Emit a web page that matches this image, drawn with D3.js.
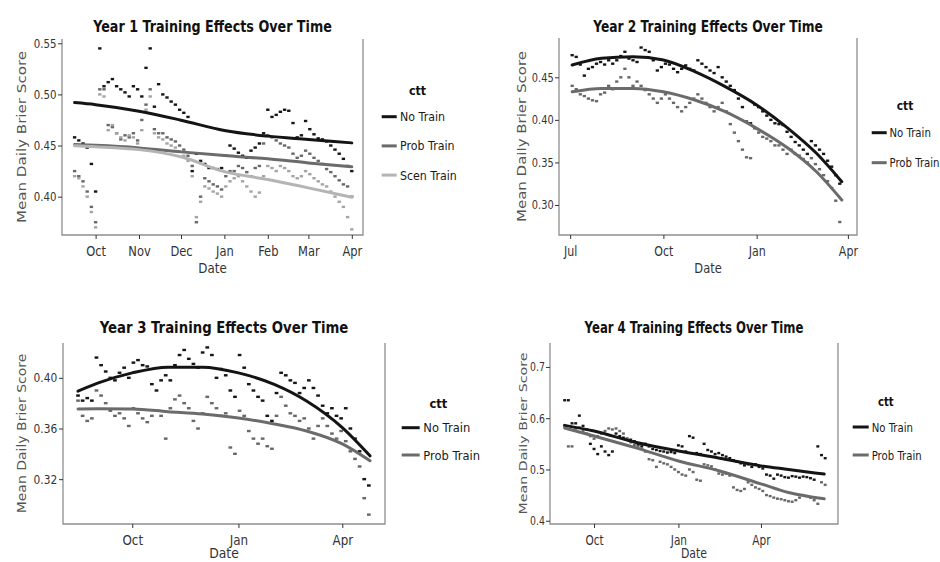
<!DOCTYPE html>
<html>
<head>
<meta charset="utf-8">
<script src="https://cdnjs.cloudflare.com/ajax/libs/d3/7.8.5/d3.min.js"></script>
<style>
  body { margin: 0; background: #fff; }
  svg { display: block; }
</style>
</head>
<body>
<div id="chart"></div>
<script>
const parseDay = d3.utcParse("%Y-%m-%d");
const seriesNames = ["No Train", "Prob Train", "Scen Train"];

// Year 1: one mean daily score every 3 days from the start date
const y1Start = "2011-09-16", y1Step = 3;
const y1NoTrain = [0.458, 0.455, 0.452, 0.448, 0.432, 0.405, 0.545, 0.508, 0.512, 0.515,
  0.508, 0.505, 0.502, 0.498, 0.508, 0.505, 0.498, 0.526, 0.545, 0.488,
  0.510, 0.500, 0.497, 0.493, 0.490, 0.485, 0.482, 0.478, 0.425, 0.442,
  0.435, 0.432, 0.428, 0.428, 0.427, 0.428, 0.440, 0.450, 0.447, 0.443,
  0.440, 0.438, 0.445, 0.448, 0.452, 0.462, 0.485, 0.478, 0.480, 0.483,
  0.485, 0.484, 0.472, 0.458, 0.460, 0.474, 0.466, 0.461, 0.457, 0.456,
  0.454, 0.450, 0.446, 0.442, 0.437, 0.430, 0.425];
const y1ProbTrain = [0.425, 0.420, 0.415, 0.405, 0.390, 0.375, 0.505, 0.505, 0.470, 0.468,
  0.462, 0.456, 0.460, 0.458, 0.462, 0.455, 0.475, 0.490, 0.505, 0.466,
  0.462, 0.462, 0.458, 0.456, 0.454, 0.450, 0.446, 0.440, 0.430, 0.375,
  0.400, 0.418, 0.415, 0.412, 0.410, 0.407, 0.420, 0.425, 0.425, 0.430,
  0.428, 0.424, 0.420, 0.428, 0.430, 0.452, 0.460, 0.458, 0.455, 0.452,
  0.450, 0.448, 0.442, 0.438, 0.440, 0.445, 0.442, 0.438, 0.435, 0.432,
  0.427, 0.424, 0.420, 0.416, 0.412, 0.410, 0.400];
const y1ScenTrain = [0.420, 0.418, 0.410, 0.400, 0.385, 0.370, 0.500, 0.498, 0.465, 0.470,
  0.462, 0.458, 0.455, 0.460, 0.458, 0.452, 0.465, 0.485, 0.498, 0.462,
  0.458, 0.456, 0.452, 0.450, 0.448, 0.444, 0.440, 0.435, 0.420, 0.380,
  0.395, 0.410, 0.408, 0.405, 0.403, 0.400, 0.410, 0.415, 0.418, 0.420,
  0.415, 0.410, 0.405, 0.400, 0.404, 0.420, 0.430, 0.428, 0.425, 0.430,
  0.428, 0.425, 0.420, 0.418, 0.420, 0.425, 0.422, 0.418, 0.415, 0.412,
  0.410, 0.405, 0.400, 0.395, 0.390, 0.380, 0.368];
const y1FitDates = ["2011-09-16", "2011-10-01", "2011-11-01", "2011-12-01", "2012-01-01", "2012-02-01", "2012-03-01", "2012-04-01"];
const y1FitNo = [0.492, 0.490, 0.4836, 0.4748, 0.4647, 0.4592, 0.456, 0.4526];
const y1FitProb = [0.451, 0.4502, 0.4477, 0.4438, 0.4402, 0.437, 0.433, 0.4292];
const y1FitScen = [0.4497, 0.4488, 0.446, 0.439, 0.4245, 0.4167, 0.4086, 0.3995];
const y1XTicks = ["2011-10-01", "2011-11-01", "2011-12-01", "2012-01-01", "2012-02-01", "2012-03-01", "2012-04-01"];
const y1YTicks = [0.40, 0.45, 0.50, 0.55];

// Year 2: every 4 days
const y2Start = "2012-07-03", y2Step = 4;
const y2NoTrain = [0.476, 0.474, 0.465, 0.452, 0.460, 0.462, 0.466, 0.468, 0.465, 0.470,
  0.466, 0.470, 0.475, 0.480, 0.472, 0.470, 0.468, 0.485, 0.482, 0.480,
  0.470, 0.458, 0.462, 0.466, 0.465, 0.460, 0.456, 0.460, 0.464, 0.460,
  0.458, 0.470, 0.466, 0.462, 0.458, 0.455, 0.462, 0.450, 0.445, 0.440,
  0.435, 0.425, 0.415, 0.398, 0.396, 0.418, 0.415, 0.410, 0.405, 0.400,
  0.396, 0.395, 0.394, 0.386, 0.380, 0.374, 0.370, 0.365, 0.360, 0.375,
  0.370, 0.365, 0.360, 0.352, 0.345, 0.335, 0.325];
const y2ProbTrain = [0.440, 0.436, 0.430, 0.428, 0.425, 0.423, 0.422, 0.430, 0.432, 0.440,
  0.436, 0.445, 0.450, 0.460, 0.450, 0.440, 0.445, 0.440, 0.435, 0.430,
  0.425, 0.420, 0.425, 0.430, 0.425, 0.420, 0.415, 0.410, 0.415, 0.420,
  0.425, 0.430, 0.425, 0.420, 0.415, 0.410, 0.415, 0.420, 0.410, 0.395,
  0.385, 0.375, 0.365, 0.356, 0.355, 0.390, 0.385, 0.380, 0.378, 0.375,
  0.370, 0.370, 0.365, 0.360, 0.365, 0.360, 0.358, 0.354, 0.350, 0.355,
  0.348, 0.342, 0.335, 0.328, 0.320, 0.305, 0.280];
const y2FitDates = ["2012-07-03", "2012-08-01", "2012-09-01", "2012-10-01", "2012-11-01", "2012-12-01", "2013-01-01", "2013-02-01", "2013-03-01", "2013-03-26"];
const y2FitNo = [0.4645, 0.4723, 0.4742, 0.4703, 0.4566, 0.439, 0.4175, 0.390, 0.3607, 0.3273];
const y2FitProb = [0.433, 0.437, 0.437, 0.433, 0.4233, 0.4096, 0.390, 0.3666, 0.339, 0.3058];
const y2XTicks = ["2012-07-01", "2012-10-01", "2013-01-01", "2013-04-01"];
const y2YTicks = [0.30, 0.35, 0.40, 0.45];

// Year 3: every 4 days
const y3Start = "2013-08-15", y3Step = 4;
const y3NoTrain = [0.386, 0.382, 0.384, 0.382, 0.416, 0.410, 0.405, 0.400, 0.398, 0.404,
  0.408, 0.400, 0.412, 0.414, 0.410, 0.409, 0.395, 0.390, 0.398, 0.402,
  0.398, 0.410, 0.418, 0.422, 0.415, 0.411, 0.408, 0.420, 0.424, 0.418,
  0.400, 0.407, 0.402, 0.390, 0.385, 0.418, 0.408, 0.395, 0.390, 0.385,
  0.382, 0.370, 0.366, 0.388, 0.404, 0.402, 0.398, 0.396, 0.388, 0.392,
  0.398, 0.392, 0.386, 0.378, 0.372, 0.376, 0.370, 0.368, 0.376, 0.360,
  0.352, 0.342, 0.320, 0.315];
const y3ProbTrain = [0.382, 0.370, 0.366, 0.368, 0.390, 0.386, 0.380, 0.374, 0.370, 0.372,
  0.368, 0.362, 0.376, 0.372, 0.368, 0.365, 0.370, 0.374, 0.370, 0.352,
  0.376, 0.383, 0.386, 0.380, 0.376, 0.366, 0.360, 0.372, 0.385, 0.380,
  0.376, 0.370, 0.372, 0.345, 0.340, 0.374, 0.370, 0.358, 0.352, 0.348,
  0.352, 0.346, 0.344, 0.370, 0.385, 0.378, 0.372, 0.370, 0.366, 0.368,
  0.360, 0.352, 0.362, 0.368, 0.362, 0.356, 0.352, 0.358, 0.350, 0.342,
  0.336, 0.330, 0.305, 0.292];
const y3FitDates = ["2013-08-15", "2013-09-01", "2013-10-01", "2013-11-01", "2013-12-01", "2014-01-01", "2014-02-01", "2014-03-01", "2014-04-01", "2014-04-25"];
const y3FitNo = [0.3895, 0.3958, 0.4039, 0.4084, 0.4084, 0.4039, 0.3948, 0.3817, 0.3607, 0.3384];
const y3FitProb = [0.3754, 0.3755, 0.3754, 0.3733, 0.3714, 0.3683, 0.3636, 0.358, 0.3478, 0.3345];
const y3XTicks = ["2013-10-01", "2014-01-01", "2014-04-01"];
const y3YTicks = [0.32, 0.36, 0.40];

// Year 4: every 4 days
const y4Start = "2014-08-30", y4Step = 4;
const y4NoTrain = [0.635, 0.635, 0.590, 0.590, 0.605, 0.585, 0.578, 0.550, 0.540, 0.530,
  0.545, 0.535, 0.528, 0.535, 0.570, 0.565, 0.562, 0.560, 0.558, 0.555,
  0.548, 0.545, 0.550, 0.545, 0.540, 0.538, 0.536, 0.535, 0.533, 0.534,
  0.532, 0.547, 0.545, 0.535, 0.565, 0.562, 0.532, 0.530, 0.550, 0.538,
  0.535, 0.530, 0.532, 0.528, 0.525, 0.522, 0.518, 0.515, 0.512, 0.508,
  0.510, 0.505, 0.510, 0.505, 0.502, 0.490, 0.488, 0.482, 0.490, 0.488,
  0.485, 0.484, 0.487, 0.486, 0.484, 0.486, 0.485, 0.483, 0.480, 0.545,
  0.528, 0.522];
const y4ProbTrain = [0.585, 0.545, 0.545, 0.580, 0.582, 0.575, 0.570, 0.565, 0.560, 0.565,
  0.570, 0.575, 0.580, 0.578, 0.580, 0.575, 0.570, 0.560, 0.553, 0.548,
  0.545, 0.540, 0.535, 0.520, 0.518, 0.505, 0.515, 0.512, 0.510, 0.505,
  0.500, 0.495, 0.490, 0.488, 0.500, 0.495, 0.480, 0.478, 0.510, 0.508,
  0.506, 0.500, 0.492, 0.490, 0.492, 0.488, 0.465, 0.460, 0.458, 0.462,
  0.475, 0.470, 0.465, 0.462, 0.458, 0.450, 0.448, 0.445, 0.443, 0.442,
  0.440, 0.438, 0.437, 0.440, 0.445, 0.450, 0.448, 0.445, 0.440, 0.433,
  0.475, 0.470];
const y4FitDates = ["2014-08-30", "2014-10-01", "2014-11-15", "2015-01-01", "2015-02-15", "2015-04-01", "2015-05-01", "2015-06-09"];
const y4FitNo = [0.586, 0.575, 0.553, 0.536, 0.522, 0.507, 0.500, 0.491];
const y4FitProb = [0.5808, 0.5652, 0.5425, 0.5166, 0.497, 0.4719, 0.455, 0.4428];
const y4XTicks = ["2014-10-01", "2015-01-01", "2015-04-01"];
const y4YTicks = [0.4, 0.5, 0.6, 0.7];

// layout of the four panels
const panels = [
  { title: "Year 1 Training Effects Over Time", start: y1Start, step: y1Step,
    series: [y1NoTrain, y1ProbTrain, y1ScenTrain], fitDates: y1FitDates, fits: [y1FitNo, y1FitProb, y1FitScen],
    xTicks: y1XTicks, yTicks: y1YTicks, yFormat: ".2f",
    xDomain: ["2011-09-07", "2012-04-09"], yDomain: [0.3625, 0.5542],
    box: { left: 62, right: 363, top: 39, bottom: 235 },
    titleWidth: 239, titleY: 31.5, dateY: 273, yLabelX: 21.7, yLabelSize: 15.1, legendSize: 13,
    legend: { keyX: 381.7, keyLen: 15, textX: 400, titleX: 417.5, titleY: 95, itemY: 116.7, gap: 29.2 } },
  { title: "Year 2 Training Effects Over Time", start: y2Start, step: y2Step,
    series: [y2NoTrain, y2ProbTrain], fitDates: y2FitDates, fits: [y2FitNo, y2FitProb],
    xTicks: y2XTicks, yTicks: y2YTicks, yFormat: ".2f",
    xDomain: ["2012-06-20", "2013-04-10"], yDomain: [0.2647, 0.4962],
    box: { left: 559, right: 857, top: 38, bottom: 235 },
    titleWidth: 230, titleY: 31.5, dateY: 273, yLabelX: 521.7, yLabelSize: 15, legendSize: 12.4,
    legend: { keyX: 871.7, keyLen: 15, textX: 889.5, titleX: 905, titleY: 110, itemY: 132.7, gap: 30 } },
  { title: "Year 3 Training Effects Over Time", start: y3Start, step: y3Step,
    series: [y3NoTrain, y3ProbTrain], fitDates: y3FitDates, fits: [y3FitNo, y3FitProb],
    xTicks: y3XTicks, yTicks: y3YTicks, yFormat: ".2f",
    xDomain: ["2013-08-02", "2014-05-08"], yDomain: [0.2846, 0.4275],
    box: { left: 63, right: 385, top: 343, bottom: 524 },
    titleWidth: 249, titleY: 332.5, dateY: 558, yLabelX: 21.7, yLabelSize: 14, legendSize: 13,
    legend: { keyX: 401.7, keyLen: 18, textX: 423.3, titleX: 438.3, titleY: 407.7, itemY: 427.7, gap: 27.3 } },
  { title: "Year 4 Training Effects Over Time", start: y4Start, step: y4Step,
    series: [y4NoTrain, y4ProbTrain], fitDates: y4FitDates, fits: [y4FitNo, y4FitProb],
    xTicks: y4XTicks, yTicks: y4YTicks, yFormat: ".1f",
    xDomain: ["2014-08-14", "2015-06-24"], yDomain: [0.3936, 0.7467],
    box: { left: 550, right: 838, top: 343, bottom: 524 },
    titleWidth: 219, titleY: 332.5, dateY: 558, yLabelX: 523.3, yLabelSize: 14.2, legendSize: 13,
    legend: { keyX: 852.7, keyLen: 16, textX: 871.7, titleX: 885.8, titleY: 406, itemY: 427, gap: 28 } }
];

const lineColors = ["#141414", "#6b6b6b", "#b4b4b4"];
const pointColors = ["#161616", "#686868", "#a4a4a4"];
const font = "DejaVu Sans";

const svg = d3.select("#chart").append("svg")
    .attr("width", 940)
    .attr("height", 562);

svg.append("rect").attr("width", 940).attr("height", 562).attr("fill", "#fff");

panels.forEach((p, pi) => {
    const b = p.box;
    const g = svg.append("g");
    const cx = (b.left + b.right) / 2;

    const x = d3.scaleUtc().domain(p.xDomain.map(parseDay)).range([b.left, b.right]);
    const y = d3.scaleLinear().domain(p.yDomain).range([b.bottom, b.top]);

    // Title; its width gives the horizontal squeeze of this panel's text
    const title = g.append("text")
        .attr("font-family", font)
        .attr("font-weight", "bold")
        .attr("font-size", 15)
        .attr("text-anchor", "middle")
        .attr("fill", "#111")
        .text(p.title);
    const sx = p.titleWidth / title.node().getComputedTextLength();
    title.attr("transform", `translate(${cx},${p.titleY}) scale(${sx},1)`);

    // Clip for the plot area
    g.append("clipPath").attr("id", "clip" + pi)
        .append("rect")
        .attr("x", b.left).attr("y", b.top)
        .attr("width", b.right - b.left).attr("height", b.bottom - b.top);
    const plot = g.append("g").attr("clip-path", `url(#clip${pi})`);

    // Points (drawn as short dashes, one per sample)
    const start = parseDay(p.start);
    const dashW = (x(d3.utcDay.offset(start, p.step)) - x(start)) * 0.8;
    p.series.forEach((vals, si) => {
        plot.append("g")
            .selectAll("rect")
            .data(vals)
            .join("rect")
            .attr("x", (d, i) => x(d3.utcDay.offset(start, i * p.step)) - dashW / 2)
            .attr("y", d => y(d) - 1.2)
            .attr("width", dashW)
            .attr("height", 2.4)
            .attr("fill", pointColors[si]);
    });

    // Smoothed trends
    const fitDates = p.fitDates.map(parseDay);
    p.fits.forEach((vals, si) => {
        plot.append("path")
            .datum(vals)
            .attr("fill", "none")
            .attr("stroke", lineColors[si])
            .attr("stroke-width", 3)
            .attr("stroke-linecap", "round")
            .attr("d", d3.line()
                .x((d, i) => x(fitDates[i]))
                .y(d => y(d))
                .curve(d3.curveMonotoneX));
    });

    // Panel border (left, bottom, right)
    g.append("path")
        .attr("d", `M${b.left},${b.top}V${b.bottom}H${b.right}V${b.top}`)
        .attr("fill", "none")
        .attr("stroke", "#8e8e8e")
        .attr("stroke-width", 1.3);

    // Axes
    const yAxis = g.append("g")
        .attr("transform", `translate(${b.left},0)`)
        .call(d3.axisLeft(y).tickValues(p.yTicks).tickFormat(d3.format(p.yFormat)).tickSize(4).tickPadding(2.5));
    const xAxis = g.append("g")
        .attr("transform", `translate(0,${b.bottom})`)
        .call(d3.axisBottom(x).tickValues(p.xTicks.map(parseDay)).tickFormat(d3.utcFormat("%b")).tickSize(4).tickPadding(7));
    [yAxis, xAxis].forEach(ax => {
        ax.select(".domain").remove();
        ax.selectAll(".tick line").attr("stroke", "#333");
        ax.selectAll(".tick text")
            .attr("font-family", font)
            .attr("fill", "#333")
            .attr("transform", `scale(${sx},1)`);
    });
    yAxis.selectAll(".tick text").attr("font-size", 12);
    xAxis.selectAll(".tick text").attr("font-size", 13.5);

    // Axis titles
    g.append("text")
        .attr("font-family", font)
        .attr("font-size", 14)
        .attr("text-anchor", "middle")
        .attr("fill", "#333")
        .attr("transform", `translate(${cx},${p.dateY}) scale(${sx},1)`)
        .text("Date");

    g.append("text")
        .attr("font-family", font)
        .attr("font-size", p.yLabelSize)
        .attr("text-anchor", "middle")
        .attr("dy", "0.35em")
        .attr("fill", "#555")
        .attr("transform", `translate(${p.yLabelX},${(b.top + b.bottom) / 2}) rotate(-90) scale(1,${sx})`)
        .text("Mean Daily Brier Score");

    // Legend
    const L = p.legend;
    g.append("text")
        .attr("font-family", font)
        .attr("font-weight", "bold")
        .attr("font-size", 13)
        .attr("text-anchor", "middle")
        .attr("fill", "#111")
        .attr("transform", `translate(${L.titleX},${L.titleY}) scale(${sx},1)`)
        .text("ctt");

    p.series.forEach((vals, si) => {
        const ly = L.itemY + si * L.gap;
        g.append("line")
            .attr("x1", L.keyX).attr("x2", L.keyX + L.keyLen)
            .attr("y1", ly).attr("y2", ly)
            .attr("stroke", lineColors[si])
            .attr("stroke-width", 3);
        g.append("text")
            .attr("font-family", font)
            .attr("font-size", p.legendSize)
            .attr("dy", "0.35em")
            .attr("fill", "#1a1a1a")
            .attr("transform", `translate(${L.textX},${ly}) scale(${sx},1)`)
            .text(seriesNames[si]);
    });
});
</script>
</body>
</html>
